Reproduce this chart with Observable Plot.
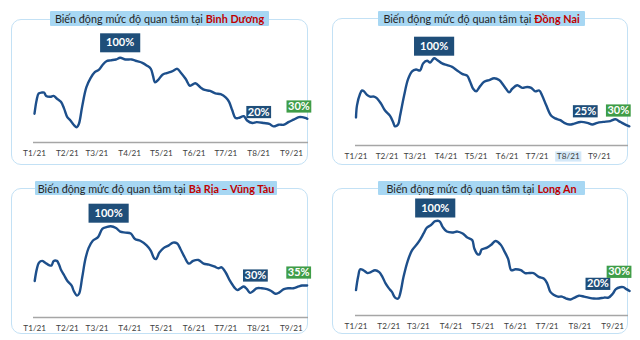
<!DOCTYPE html>
<html>
<head>
<meta charset="utf-8">
<script src="https://cdn.jsdelivr.net/npm/d3@7"></script>
<script src="https://cdn.jsdelivr.net/npm/@observablehq/plot@0.6"></script>
<style>
  body { margin: 0; background: #fff; font-family: Lato, "Open Sans", sans-serif; }
  #page { position: relative; width: 640px; height: 340px; overflow: hidden; background: #fff; }
  .panel { position: absolute; border: 1.5px solid #c3e1f5; border-radius: 10px; box-sizing: border-box; }
  .chart { position: absolute; }
  .chart svg { display: block; overflow: visible; }
  .title { position: absolute; background: #a7d7f3; border-radius: 1px; font-size: 10.8px; color: #262626;
           display: flex; align-items: center; justify-content: center; white-space: nowrap; z-index: 2; }
  .title b { color: #c00000; margin-left: 3px; }
</style>
</head>
<body>
<div id="page"></div>
<script>
// Month ticks on the time axis
const monthStarts = ["2021-01-01", "2021-02-01", "2021-03-01", "2021-04-01", "2021-05-01",
                     "2021-06-01", "2021-07-01", "2021-08-01", "2021-09-01"];
const tickLabels = ["T1/21", "T2/21", "T3/21", "T4/21", "T5/21", "T6/21", "T7/21", "T8/21", "T9/21"];

const titlePrefix = "Biến động mức độ quan tâm tại";
const places = ["Bình Dương", "Đồng Nai", "Bà Rịa – Vũng Tàu", "Long An"];

// Search interest, % of the year's peak; each pair is [day of 2021 (0 = 1 Jan), value]
const binhDuong = [[0,34],[2,50],[4,58],[7,59],[9,59],[11,55],[15,54],[18,55],[21,52],[25,48],[28,40],[31,30],[34,26],[37,21],[40,18],[42,22],[45,42],[49,65],[53,76],[57,83],[61,86],[64,91],[68,96],[72,97],[77,98],[81,100],[86,98],[92,98],[97,96],[102,94],[106,91],[110,87],[112,79],[114,71],[117,74],[121,80],[125,82],[130,84],[135,87],[138,83],[143,75],[147,67],[152,70],[157,65],[161,62],[166,61],[171,58],[176,57],[181,53],[184,48],[187,38],[190,29],[193,29],[198,31],[201,26],[206,23],[210,24],[217,23],[222,22],[226,19],[231,21],[236,21],[240,24],[245,27],[250,30],[253,30],[256,29],[258,28]];
const dongNai = [[0,32],[1,46],[4,59],[6,63],[8,62],[11,58],[14,56],[18,56],[21,54],[25,48],[29,40],[34,34],[37,27],[39,22],[42,24],[44,34],[48,57],[52,76],[56,85],[60,87],[64,86],[67,94],[71,97],[74,95],[78,100],[81,98],[86,94],[91,92],[96,90],[101,86],[106,82],[111,80],[114,73],[117,65],[120,62],[124,68],[128,73],[133,75],[138,77],[143,75],[148,68],[153,61],[156,65],[161,69],[166,66],[171,67],[175,66],[179,62],[183,63],[186,57],[190,46],[195,34],[199,31],[204,29],[208,26],[213,24],[218,25],[224,27],[231,26],[236,24],[241,26],[247,27],[254,28],[259,30],[264,27],[269,24],[273,22]];
const baRiaVungTau = [[0,40],[2,53],[4,60],[7,62],[10,60],[14,57],[16,57],[18,62],[21,62],[23,58],[25,52],[28,46],[31,40],[35,35],[37,29],[40,24],[42,26],[45,44],[48,64],[51,76],[55,84],[60,88],[64,97],[68,99],[72,100],[77,98],[81,94],[86,93],[91,92],[95,86],[100,84],[106,79],[110,73],[113,65],[115,64],[118,71],[122,76],[127,79],[131,82],[135,81],[138,75],[142,66],[146,59],[150,62],[155,63],[160,59],[165,58],[170,56],[174,54],[177,55],[181,49],[185,40],[189,33],[192,30],[195,32],[198,34],[201,31],[204,27],[207,29],[210,32],[215,32],[220,31],[224,29],[228,26],[231,27],[236,31],[240,32],[245,32],[250,34],[253,35],[258,35]];
const longAn = [[0,27],[2,41],[4,49],[7,48],[11,45],[14,46],[18,48],[22,46],[25,41],[28,34],[31,29],[34,25],[37,19],[40,18],[42,24],[45,41],[49,58],[53,69],[58,76],[61,81],[64,87],[67,93],[71,96],[75,100],[79,100],[82,94],[86,89],[91,88],[96,89],[101,87],[105,83],[110,80],[112,71],[115,65],[117,65],[119,70],[124,72],[128,75],[132,79],[137,75],[140,69],[144,60],[147,48],[151,49],[156,48],[160,45],[164,45],[168,45],[173,41],[178,39],[181,34],[184,25],[187,22],[191,20],[195,20],[199,18],[203,17],[207,19],[211,21],[216,20],[220,19],[225,18],[230,18],[235,19],[239,19],[243,23],[246,28],[250,30],[253,30],[256,28],[259,26]];

// Annotated levels: [day of 2021, value]
const binhDuongLabels = [[81,100],[212,20],[250,30]];
const dongNaiLabels = [[78,100],[229,25],[262,30]];
const baRiaVungTauLabels = [[70,100],[209,30],[250,35]];
const longAnLabels = [[75,100],[229,20],[249,30]];

const seriesList = [binhDuong, dongNai, baRiaVungTau, longAn];
const labelList = [binhDuongLabels, dongNaiLabels, baRiaVungTauLabels, longAnLabels];

// Panel layout (pixels)
const layout = [
  {box: [11, 19, 297, 146], title: [50, 11, 219, 15], axisY: 123, left: 22, x0: 23, x9: 280, y100: 38.3, dy: [-15, -13.5, -10.6]},
  {box: [332, 18, 296, 147], title: [378, 11, 207, 15], axisY: 127, left: 23, x0: 23.5, x9: 266.8, y100: 39.7, dy: [-12, -12.4, -8.8], highlightTick: 7},
  {box: [11, 188, 297, 146], title: [35, 181, 242, 14], axisY: 129, left: 22, x0: 23.2, x9: 279.8, y100: 37.7, dy: [-13, -14.6, -13]},
  {box: [332, 188, 296, 146], title: [378, 181, 207, 14], axisY: 127, left: 23, x0: 23.5, x9: 280.2, y100: 32.7, dy: [-13.2, -12.8, -15.4]}
];

const navy = "#1f4e79", green = "#3f9d48", lineColor = "#1d4f8b";
const jan1 = new Date(Date.UTC(2021, 0, 1));
const dayToDate = (d) => d3.utcDay.offset(jan1, d);

const measureCtx = document.createElement("canvas").getContext("2d");

// Text mark drawn on top of a filled rectangle sized to the text
function boxedText(data, {label, boxFill, padX = 2, padY = 1, fontSize = 11, fontWeight = "normal", ...options}) {
  return Plot.text(data, {
    ...options, text: label, fontSize, fontWeight, fontFamily: "Lato",
    render(index, scales, values, dimensions, context, next) {
      const g = next(index, scales, values, dimensions, context);
      measureCtx.font = `${fontWeight} ${fontSize}px Lato`;
      const first = g.firstChild;
      for (const i of index) {
        const color = boxFill(data[i], i);
        if (!color) continue;
        const w = measureCtx.measureText(label(data[i], i)).width + 2 * padX;
        const h = fontSize + 2 * padY;
        const r = document.createElementNS("http://www.w3.org/2000/svg", "rect");
        r.setAttribute("x", values.x[i] - w / 2);
        r.setAttribute("y", values.y[i] - h / 2);
        r.setAttribute("width", w);
        r.setAttribute("height", h);
        r.setAttribute("fill", color);
        g.insertBefore(r, first);
      }
      return g;
    }
  });
}

const page = document.getElementById("page");
const ticks = monthStarts.map((d, i) => ({date: new Date(d), label: tickLabels[i]}));

layout.forEach((L, k) => {
  const [bx, by, bw, bh] = L.box;
  const panel = document.createElement("div");
  panel.className = "panel";
  Object.assign(panel.style, {left: bx + "px", top: by + "px", width: bw + "px", height: bh + "px"});
  page.appendChild(panel);

  const [tx, ty, tw, th] = L.title;
  const title = document.createElement("div");
  title.className = "title";
  Object.assign(title.style, {left: tx + "px", top: ty + "px", width: tw + "px", height: th + "px"});
  title.innerHTML = `${titlePrefix}<b>${places[k]}</b>`;
  page.appendChild(title);

  const series = seriesList[k].map(([d, v]) => ({date: dayToDate(d), value: v}));
  const labels = labelList[k].map(([d, v], i) => ({date: dayToDate(d), value: v, dy: L.dy[i], last: i === labelList[k].length - 1, peak: v === 100}));

  const chart = Plot.plot({
    width: bw, height: bh,
    marginLeft: L.left, marginRight: 0, marginTop: 0, marginBottom: bh - L.axisY,
    style: {fontFamily: "Lato", background: "transparent"},
    x: {type: "utc", domain: [new Date(monthStarts[0]), new Date(monthStarts[8])], range: [L.x0, L.x9], axis: null},
    y: {domain: [0, 100], range: [L.axisY, L.y100], axis: null},
    marks: [
      Plot.ruleY([0], {stroke: "#a6a6a6", strokeWidth: 1.3}),
      boxedText(ticks, {
        x: "date", y: () => 0, dy: 11, fontSize: 8.2, fill: "#404040", padX: 1.7, padY: 1,
        label: (d) => d.label,
        boxFill: (d, i) => (L.highlightTick === i ? "#d4e8f8" : null)
      }),
      Plot.line(series, {x: "date", y: "value", curve: "catmull-rom", stroke: lineColor, strokeWidth: 2.4}),
      ...labels.map((lab) => boxedText([lab], {
        x: "date", y: "value", dy: lab.dy, fill: "white", fontSize: 11, fontWeight: "bold",
        padX: lab.peak ? 6 : 1.5, padY: lab.peak ? 4 : 0.6,
        label: (d) => d.value + "%",
        boxFill: (d) => (d.last ? green : navy)
      }))
    ]
  });
  const holder = document.createElement("div");
  holder.className = "chart";
  Object.assign(holder.style, {left: bx + "px", top: by + "px"});
  holder.appendChild(chart);
  page.appendChild(holder);
});
</script>
</body>
</html>
